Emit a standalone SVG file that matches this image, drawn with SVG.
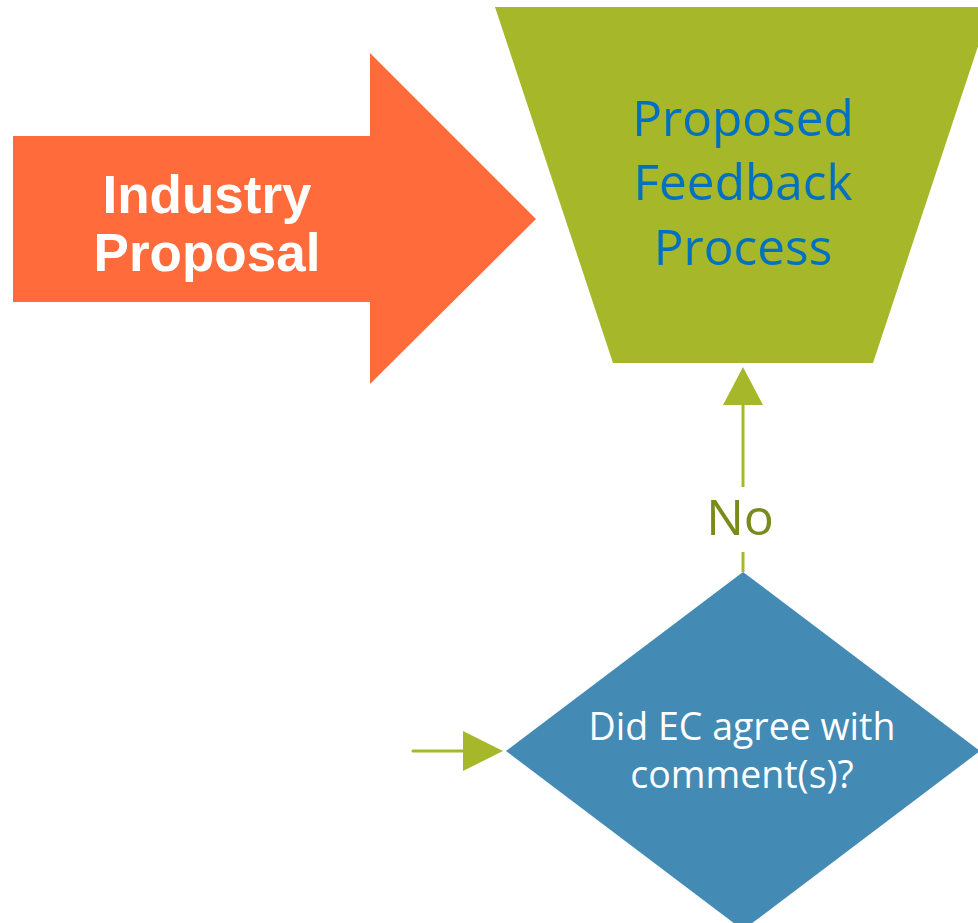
<svg xmlns="http://www.w3.org/2000/svg" width="978" height="923" viewBox="0 0 978 923">
<defs>
<style>
.green{fill:#A6B72A}
.conn{stroke:#A6B72A;stroke-width:3;fill:none}
.head{fill:#A6B72A}
.t-ind{font-family:"Liberation Sans",Arial,sans-serif;font-weight:bold;font-size:53px;fill:#FFFFFF;text-anchor:middle}
.t-proc{font-family:"Open Sans","Noto Sans",sans-serif;font-size:49.5px;fill:#0070C0;text-anchor:middle}
.t-no{font-family:"Open Sans","Noto Sans",sans-serif;font-size:50px;fill:#7A8A1C;text-anchor:middle}
.t-dec{font-family:"Open Sans","Noto Sans",sans-serif;font-size:37.5px;fill:#FFFFFF;text-anchor:middle}
</style>
</defs>
<rect width="978" height="923" fill="#FFFFFF"/>
<g id="industry-proposal">
<polygon points="13,136 370,136 370,53 536,219 370,384 370,302 13,302" fill="#FF6B3B"/>
<text class="t-ind" x="207" y="213">Industry</text>
<text class="t-ind" x="207" y="271">Proposal</text>
</g>
<g id="feedback-process">
<polygon class="green" points="495,7 991,7 873,363 613,363"/>
<text class="t-proc" x="743" y="136">Proposed</text>
<text class="t-proc" x="743" y="200">Feedback</text>
<text class="t-proc" x="743" y="265">Process</text>
</g>
<g id="decision">
<polygon points="743,572 980,751 743,930 506,751" fill="#438AB4"/>
<text class="t-dec" x="742" y="740">Did EC agree with</text>
<text class="t-dec" x="742" y="788">comment(s)?</text>
</g>
<g id="connectors">
<line class="conn" x1="743" y1="572" x2="743" y2="552"/>
<line class="conn" x1="743" y1="487" x2="743" y2="403"/>
<polygon class="head" points="743,367 763,405 723,405"/>
<text class="t-no" x="740" y="535">No</text>
<line class="conn" x1="413" y1="751" x2="465" y2="751" stroke-linecap="round"/>
<polygon class="head" points="503,751 463,731 463,771"/>
</g>
</svg>
